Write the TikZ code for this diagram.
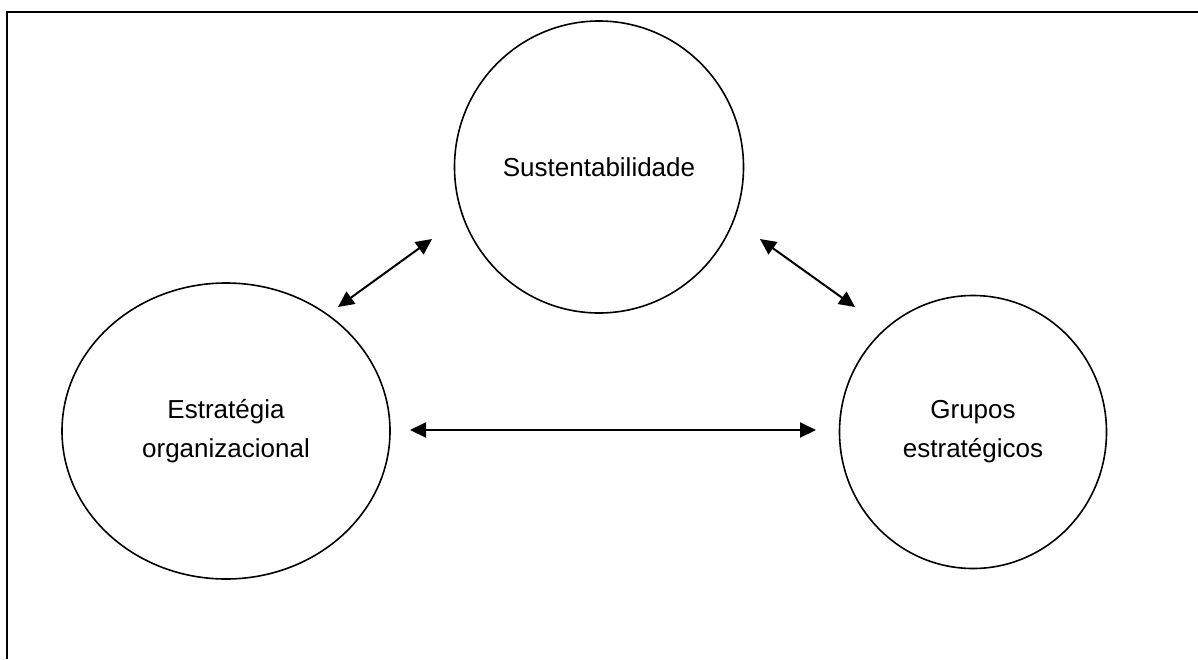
\documentclass[tikz,border=0pt]{standalone}
\usepackage{fontspec}
\setmainfont{Liberation Sans}
\usetikzlibrary{arrows.meta, shapes.geometric}
\tikzset{
	% Define standard arrow tip
	>={Triangle[length=16pt, width=15pt]},
	% Define arrow style
	pil/.style={
		<->,
		line width=2pt
	},
	circ/.style={
		ellipse,
		draw,
		line width=1.6pt,
		inner sep=0,
		align=center,
		font=\fontsize{26}{39}\selectfont
	}
}

\begin{document}
\begin{tikzpicture}[x=1pt, y=-1pt]
\useasboundingbox (0,0) rectangle (1198,659);

% frame
\draw[line width=1.8pt] (1198,12) -- (7,12) -- (7,659);

\node[circ, minimum width=289pt, minimum height=292pt] at (599,167) (sus) {Sustentabilidade};
\node[circ, minimum width=328pt, minimum height=296pt] at (226,431) (org) {Estratégia\\organizacional};
\node[circ, minimum width=267pt, minimum height=273pt] at (973,432) (gru) {Grupos\\estratégicos};

% arrow ends
\coordinate (a1) at (338,307);
\coordinate (a2) at (432,239);
\coordinate (b1) at (760,239);
\coordinate (b2) at (855,307);
\coordinate (c1) at (410,430);
\coordinate (c2) at (816,430);

\draw[pil] (a1) -- (a2);
\draw[pil] (b1) -- (b2);
\draw[pil] (c1) -- (c2);

\end{tikzpicture}
\end{document}
